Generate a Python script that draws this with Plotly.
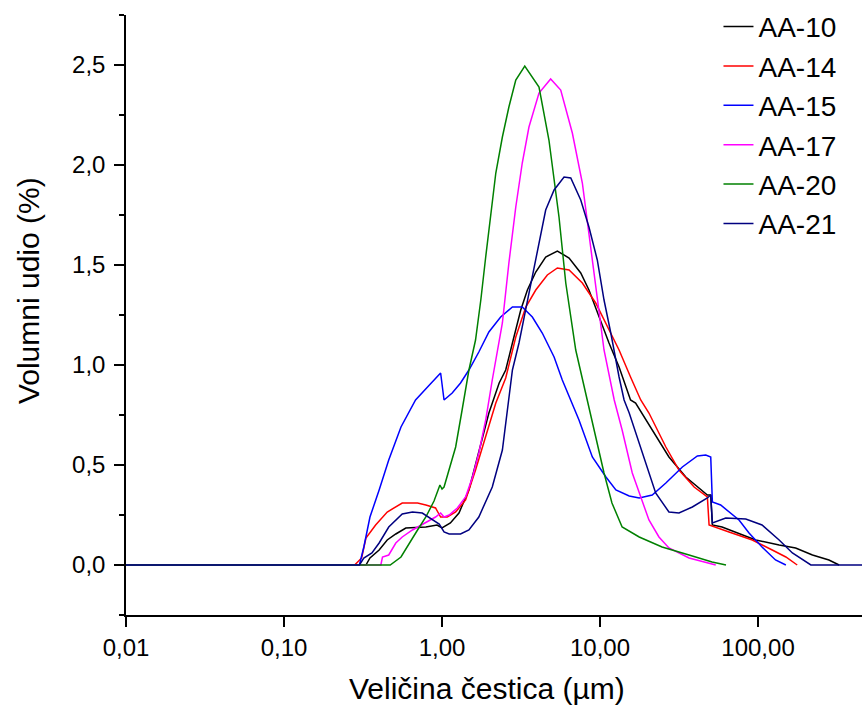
import plotly.graph_objects as go

# ---- data (particle size in µm, volume fraction in %) ----
names = ["AA-10", "AA-14", "AA-15", "AA-17", "AA-20", "AA-21"]
colors = ["#000000", "#FF0000", "#0000FF", "#FF00FF", "#008000", "#000080"]

aa10_x = [0.01, 0.33, 0.35, 0.40, 0.45, 0.51, 0.59, 0.79, 0.93, 1.00, 1.13, 1.28, 1.48, 1.71, 1.98,
          2.30, 2.53, 2.79, 3.15, 3.47, 3.92, 4.53, 5.37, 6.37, 7.55, 8.51, 9.86, 11.4, 13.2, 15.6,
          16.8, 21.4, 27.3, 34.9, 47.8, 50.2, 51.4, 59.2, 96.7, 136, 173, 221, 281, 326]
aa10_y = [0.0, 0.0, 0.035, 0.075, 0.125, 0.155, 0.185, 0.19, 0.20, 0.185, 0.21, 0.26, 0.375, 0.56, 0.76,
          0.91, 0.975, 1.11, 1.275, 1.375, 1.465, 1.54, 1.57, 1.535, 1.46, 1.375, 1.24, 1.11, 0.99, 0.825,
          0.81, 0.675, 0.54, 0.44, 0.35, 0.35, 0.20, 0.19, 0.125, 0.10, 0.085, 0.05, 0.025, 0.0]

aa14_x = [0.01, 0.28, 0.31, 0.33, 0.38, 0.45, 0.56, 0.70, 0.79, 0.91, 0.98, 1.08, 1.22, 1.41, 1.63,
          1.89, 2.19, 2.53, 2.93, 3.39, 3.92, 4.64, 5.37, 6.37, 7.73, 9.39, 11.4, 13.2, 15.6, 18.1,
          20.4, 26.1, 31.6, 39.4, 47.8, 49.0, 65.5, 92.0, 123, 150, 177]
aa14_y = [0.0, 0.0, 0.035, 0.135, 0.20, 0.265, 0.31, 0.31, 0.30, 0.285, 0.24, 0.24, 0.265, 0.325, 0.475,
          0.64, 0.81, 0.935, 1.14, 1.29, 1.375, 1.45, 1.485, 1.475, 1.41, 1.31, 1.175, 1.075, 0.94, 0.825,
          0.76, 0.59, 0.475, 0.39, 0.34, 0.20, 0.165, 0.125, 0.075, 0.04, 0.0]

aa15_x = [0.01, 0.30, 0.32, 0.35, 0.40, 0.46, 0.55, 0.59, 0.68, 0.81, 0.91, 0.98, 1.03, 1.16, 1.31,
          1.48, 1.71, 1.98, 2.35, 2.79, 3.22, 3.73, 4.31, 5.12, 5.77, 6.37, 7.36, 8.94, 10.9, 12.6,
          15.3, 17.7, 21.4, 26.1, 33.2, 41.3, 46.7, 50.2, 51.4, 58.0, 65.5, 75.8, 87.7, 106, 129, 150]
aa15_y = [0.0, 0.0, 0.09, 0.24, 0.375, 0.525, 0.69, 0.735, 0.825, 0.89, 0.935, 0.96, 0.825, 0.86, 0.91,
          0.975, 1.065, 1.165, 1.24, 1.29, 1.29, 1.24, 1.16, 1.04, 0.925, 0.84, 0.725, 0.54, 0.44, 0.375,
          0.345, 0.335, 0.35, 0.41, 0.49, 0.545, 0.55, 0.54, 0.315, 0.30, 0.265, 0.225, 0.16, 0.09, 0.025, 0.0]

aa17_x = [0.01, 0.41, 0.42, 0.46, 0.51, 0.56, 0.65, 0.79, 0.91, 0.98, 1.03, 1.11, 1.25, 1.41, 1.56,
          1.71, 1.89, 2.08, 2.41, 2.65, 2.93, 3.22, 3.55, 4.11, 4.87, 5.64, 6.68, 7.73, 8.51, 9.61,
          10.6, 12.3, 13.8, 16.0, 18.1, 20.4, 23.6, 27.3, 36.6, 46.7, 54.0]
aa17_y = [0.0, 0.0, 0.04, 0.05, 0.11, 0.14, 0.175, 0.215, 0.24, 0.26, 0.24, 0.25, 0.285, 0.34, 0.44,
          0.56, 0.725, 0.925, 1.21, 1.51, 1.79, 2.01, 2.19, 2.36, 2.43, 2.375, 2.16, 1.91, 1.66, 1.325,
          1.075, 0.825, 0.675, 0.46, 0.34, 0.225, 0.14, 0.085, 0.035, 0.015, 0.0]

aa20_x = [0.01, 0.47, 0.55, 0.62, 0.70, 0.79, 0.89, 0.97, 1.00, 1.03, 1.11, 1.22, 1.34, 1.48, 1.63,
          1.76, 1.89, 2.03, 2.19, 2.41, 2.65, 2.93, 3.34, 4.11, 4.75, 5.50, 6.07, 7.02, 8.31, 8.94,
          10.6, 11.9, 13.8, 17.7, 24.7, 36.6, 51.2, 62.7]
aa20_y = [0.0, 0.0, 0.04, 0.11, 0.175, 0.24, 0.32, 0.40, 0.38, 0.39, 0.475, 0.59, 0.775, 0.975, 1.125,
          1.325, 1.54, 1.74, 1.96, 2.14, 2.29, 2.425, 2.495, 2.39, 2.125, 1.74, 1.41, 1.075, 0.825, 0.71,
          0.46, 0.31, 0.19, 0.14, 0.09, 0.05, 0.015, 0.0]

aa21_x = [0.01, 0.30, 0.32, 0.36, 0.40, 0.46, 0.56, 0.65, 0.75, 0.87, 0.96, 1.03, 1.11, 1.31, 1.48,
          1.71, 2.08, 2.41, 2.79, 3.07, 3.39, 3.73, 4.21, 4.53, 5.12, 5.92, 6.53, 7.55, 8.51, 9.61,
          10.6, 11.7, 13.2, 14.2, 15.3, 18.5, 22.5, 27.3, 31.6, 38.4, 47.8, 50.2, 51.4, 62.5, 83.6,
          106, 136, 165, 191, 216, 600]
aa21_y = [0.0, 0.0, 0.035, 0.06, 0.11, 0.19, 0.255, 0.265, 0.26, 0.225, 0.205, 0.165, 0.155, 0.155, 0.175,
          0.24, 0.39, 0.575, 0.975, 1.11, 1.275, 1.44, 1.64, 1.775, 1.875, 1.94, 1.935, 1.825, 1.69, 1.525,
          1.325, 1.16, 0.94, 0.825, 0.76, 0.56, 0.36, 0.265, 0.26, 0.29, 0.335, 0.35, 0.21, 0.235, 0.23,
          0.20, 0.125, 0.06, 0.025, 0.0, 0.0]

series_x = [aa10_x, aa14_x, aa15_x, aa17_x, aa20_x, aa21_x]
series_y = [aa10_y, aa14_y, aa15_y, aa17_y, aa20_y, aa21_y]

x_tickvals = [0.01, 0.1, 1, 10, 100]
x_ticktext = ["0,01", "0,10", "1,00", "10,00", "100,00"]
x_title = "Veličina čestica (µm)"
y_title = "Volumni udio (%)"

FONT = "Liberation Sans, Arial, sans-serif"

fig = go.Figure()
for n, c, xs, ys in zip(names, colors, series_x, series_y):
    fig.add_trace(go.Scatter(x=xs, y=ys, mode="lines", name=n,
                             line=dict(color=c, width=1.5)))

fig.update_layout(
    width=864, height=706,
    margin=dict(l=126, r=2, t=15, b=91),
    paper_bgcolor="white", plot_bgcolor="white",
    separators=",.",
    font=dict(family=FONT, size=24, color="black"),
    showlegend=True,
    legend=dict(x=0.805, y=1.022, xanchor="left", yanchor="top",
                font=dict(family=FONT, size=28, color="black"),
                bgcolor="rgba(0,0,0,0)", borderwidth=0, tracegroupgap=0),
    xaxis=dict(type="log", range=[-2, 2.658], automargin=False,
               tickvals=x_tickvals, ticktext=x_ticktext,
               showgrid=False, zeroline=False,
               showline=True, linecolor="black", linewidth=1.5,
               ticks="outside", ticklen=10, tickwidth=1.5, tickcolor="black",
               tickfont=dict(size=24), ticklabelstandoff=0),
    yaxis=dict(range=[-0.25, 2.75], dtick=0.5, tick0=0, tickformat=".1f", automargin=False,
               showgrid=False, zeroline=False,
               showline=True, linecolor="black", linewidth=1.5,
               ticks="outside", ticklen=10, tickwidth=1.5, tickcolor="black",
               tickfont=dict(size=24), ticklabelstandoff=4,
               minor=dict(dtick=0.25, tick0=0, ticks="outside", ticklen=5,
                          tickwidth=1.5, tickcolor="black", showgrid=False)),
    annotations=[
        dict(text=x_title, xref="paper", yref="paper", x=0.49, y=-0.122,
             xanchor="center", yanchor="middle", showarrow=False,
             font=dict(family=FONT, size=30, color="black")),
        dict(text=y_title, xref="paper", yref="paper", x=-0.133, y=0.54,
             xanchor="center", yanchor="middle", showarrow=False, textangle=-90,
             font=dict(family=FONT, size=30, color="black")),
    ],
)

fig.write_html("out.html", config={"displayModeBar": False},
               post_script="document.body.style.margin='0';document.body.style.overflow='hidden';")
